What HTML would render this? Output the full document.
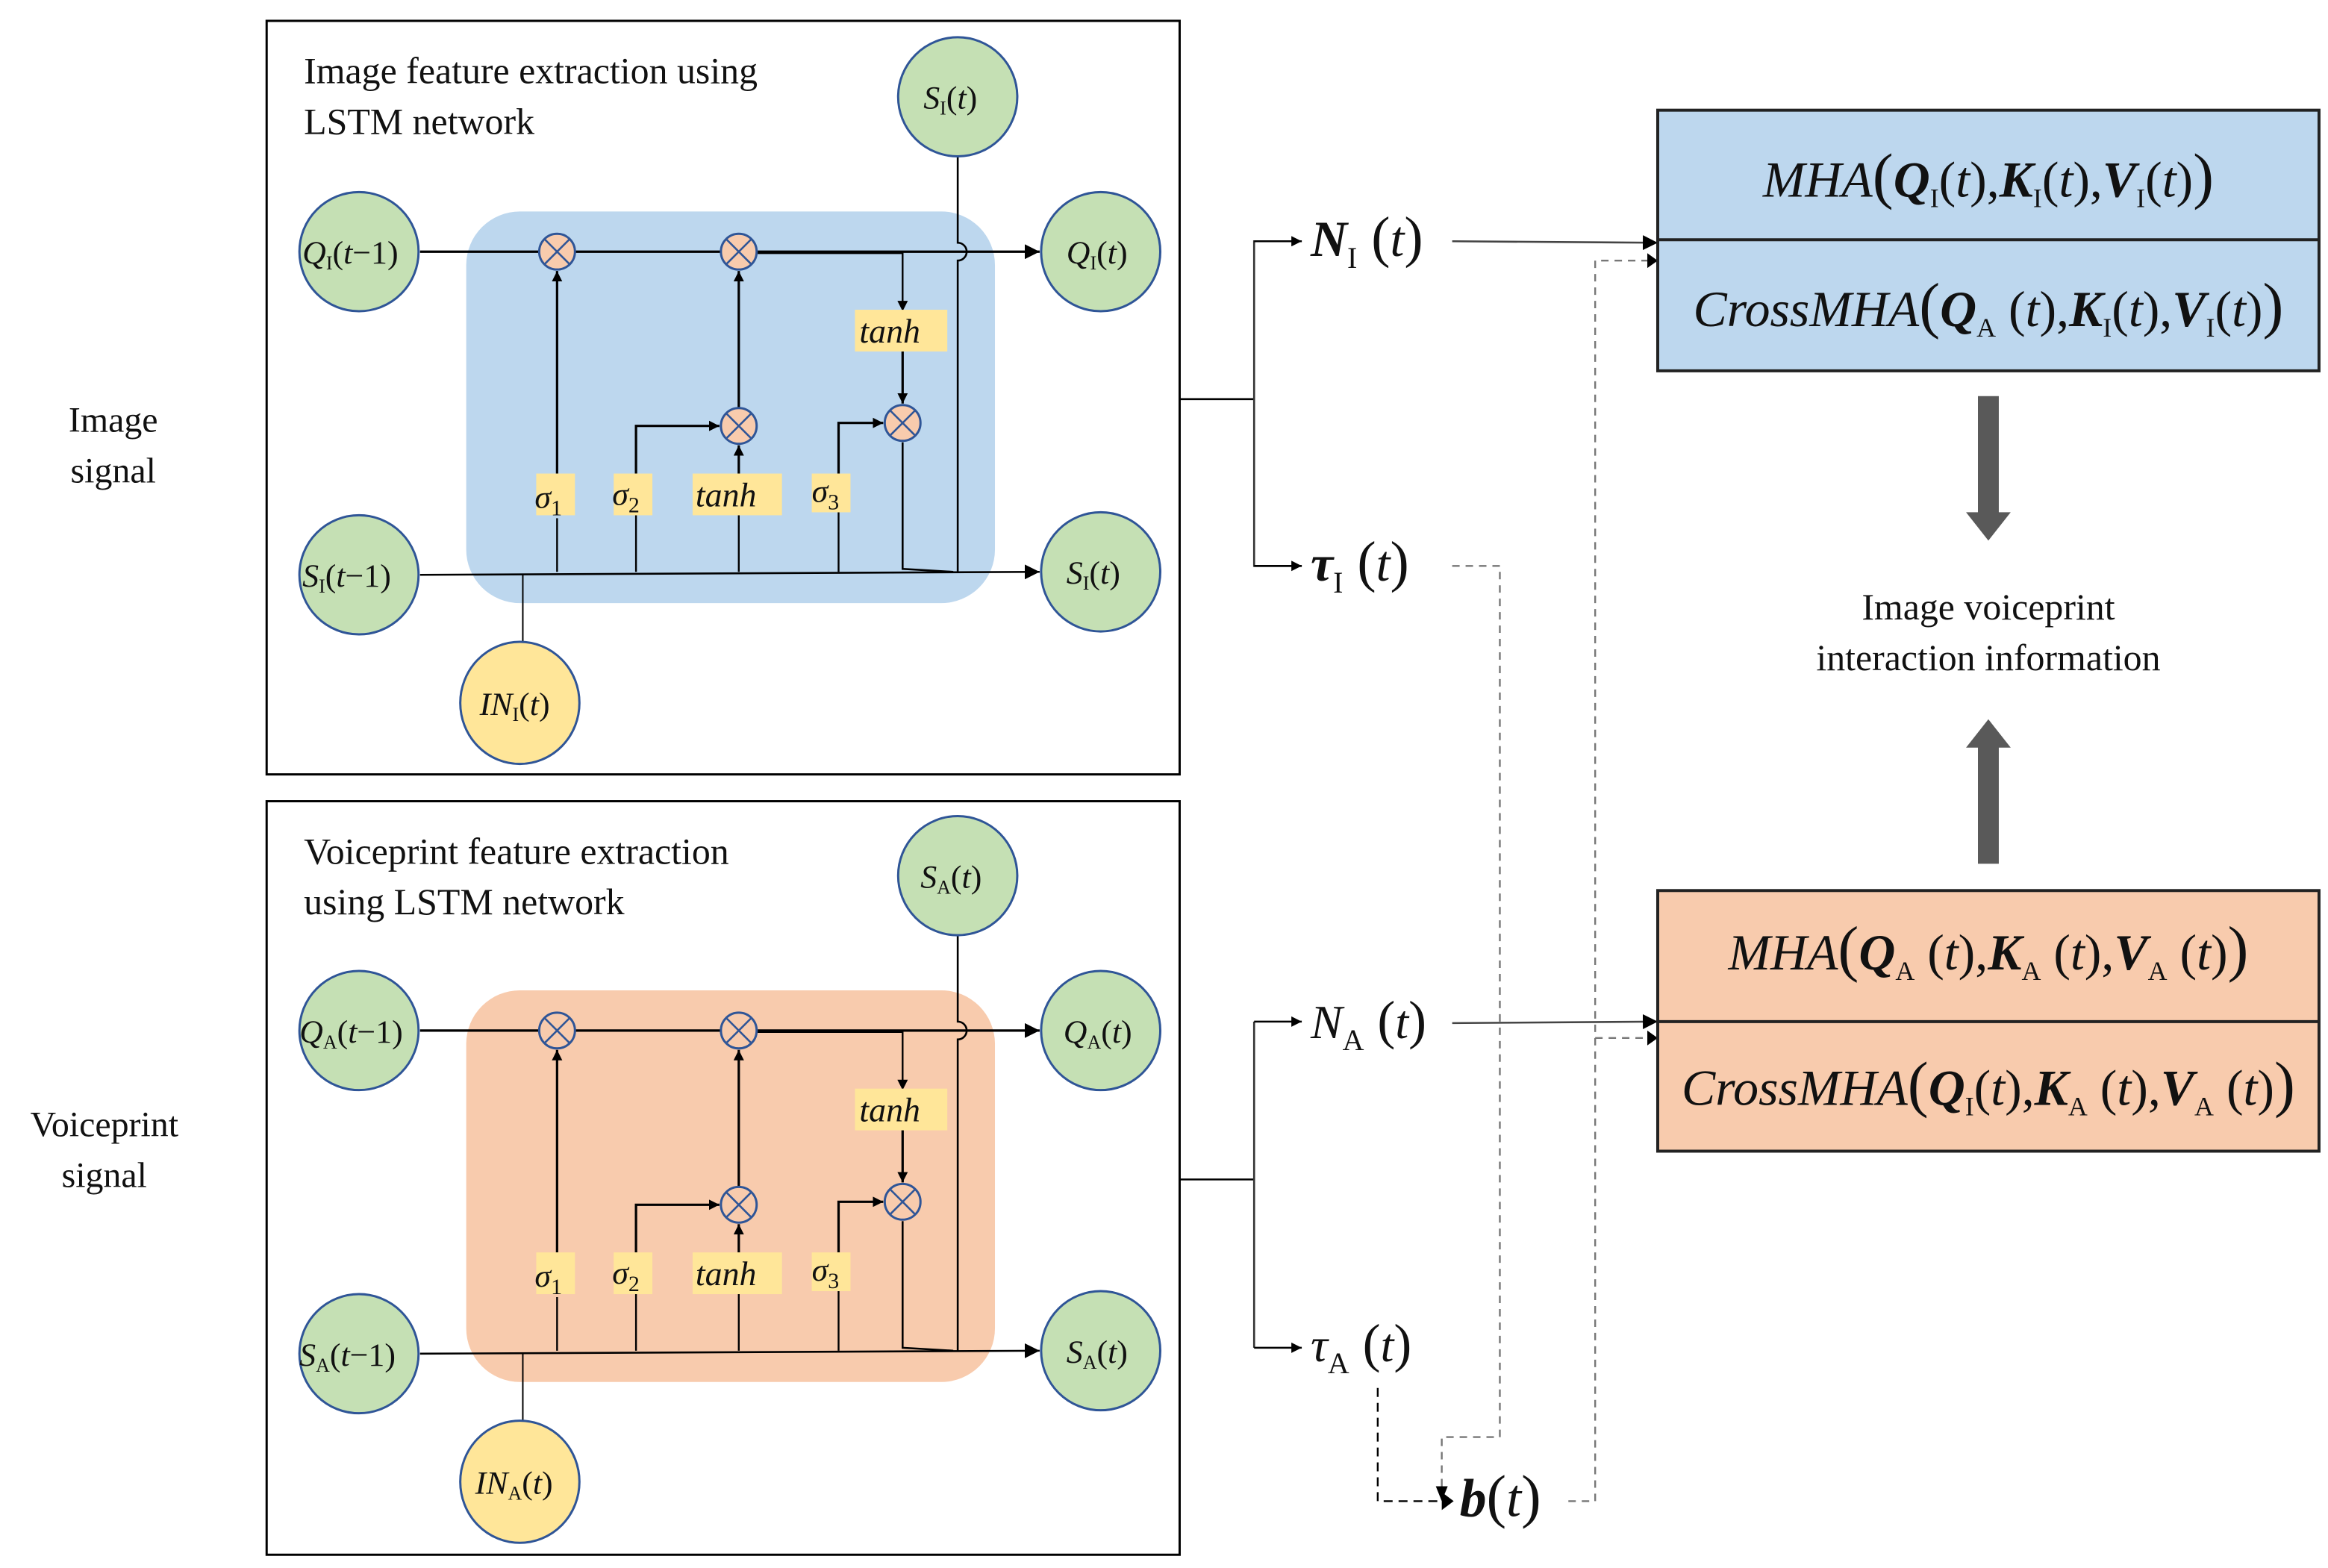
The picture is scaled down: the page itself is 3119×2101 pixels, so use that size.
<!DOCTYPE html>
<html><head><meta charset="utf-8"><style>
html,body{margin:0;padding:0;background:#fff}
svg{display:block}
text{font-family:"Liberation Serif","Times New Roman",serif;fill:#111}
.it{font-style:italic}
.b{font-weight:bold}
</style></head><body>
<svg width="3119" height="2101" viewBox="0 0 1563 1052.9" xmlns="http://www.w3.org/2000/svg" font-family="'Liberation Serif','Times New Roman',serif">
<defs>
<marker id="ar" viewBox="0 0 10 10" refX="10" refY="5" markerWidth="7" markerHeight="7" orient="auto" markerUnits="userSpaceOnUse"><path d="M0,0L10,5L0,10z" fill="#000"/></marker>
<marker id="ar2" viewBox="0 0 10 10" refX="10" refY="5" markerWidth="10" markerHeight="10" orient="auto" markerUnits="userSpaceOnUse"><path d="M0,0L10,5L0,10z" fill="#000"/></marker>
</defs>

<!-- left labels -->
<text x="76" y="290" font-size="24" text-anchor="middle">Image</text>
<text x="76" y="324" font-size="24" text-anchor="middle">signal</text>
<text x="70" y="763" font-size="24" text-anchor="middle">Voiceprint</text>
<text x="70" y="797" font-size="24" text-anchor="middle">signal</text>

<!-- ============ TOP LSTM ============ -->
<g>
<rect x="179" y="14" width="613" height="506" fill="#fff" stroke="#000" stroke-width="1.5"/>
<text x="204" y="56" font-size="25">Image feature extraction using</text>
<text x="204" y="90" font-size="25">LSTM network</text>
<rect x="313" y="142" width="355" height="263" rx="36" fill="#bdd7ee"/>
<g stroke="#000" stroke-width="1.6" fill="none">
<line x1="282" y1="169" x2="698" y2="169" marker-end="url(#ar2)"/>
<line x1="282" y1="386" x2="698" y2="384" stroke-width="1.3" marker-end="url(#ar2)"/>
<line x1="374" y1="318" x2="374" y2="182" marker-end="url(#ar)"/>
<line x1="496" y1="274" x2="496" y2="182" marker-end="url(#ar)"/>
<line x1="496" y1="318" x2="496" y2="299" marker-end="url(#ar)"/>
<polyline points="427,318 427,286 483,286" marker-end="url(#ar)"/>
<polyline points="563,318 563,284 593,284" marker-end="url(#ar)"/>
<polyline points="508,170 606,170 606,209" stroke-width="1.2" marker-end="url(#ar)"/>
<line x1="606" y1="236" x2="606" y2="271" marker-end="url(#ar)"/>
<polyline points="606,297 606,382 640,384" stroke-width="1.3"/>
<path d="M643,105 L643,163 A6,6 0 0 1 643,175 L643,384" stroke-width="1.3"/>
<polyline points="374,348 374,384" stroke-width="1.2"/>
<polyline points="427,346 427,384" stroke-width="1.2"/>
<polyline points="496,346 496,384" stroke-width="1.2"/>
<polyline points="563,344 563,384" stroke-width="1.2"/>
<line x1="351" y1="432" x2="351" y2="386" stroke-width="1"/>
</g>
<g fill="#ffe699">
<rect x="360" y="318" width="26" height="28"/>
<rect x="412" y="318" width="26" height="28"/>
<rect x="465" y="318" width="60" height="28"/>
<rect x="545" y="318" width="26" height="26"/>
<rect x="574" y="208" width="62" height="28"/>
</g>
<text x="359" y="341" font-size="22" class="it">σ<tspan font-size="15" dy="5" font-style="normal">1</tspan></text>
<text x="411" y="339" font-size="22" class="it">σ<tspan font-size="15" dy="5" font-style="normal">2</tspan></text>
<text x="467" y="340" font-size="23" class="it">tanh</text>
<text x="545" y="337" font-size="22" class="it">σ<tspan font-size="15" dy="5" font-style="normal">3</tspan></text>
<text x="577" y="230" font-size="23" class="it">tanh</text>
<g fill="#f8cbad" stroke="#2f5597" stroke-width="1.5">
<circle cx="374" cy="169" r="12"/><circle cx="496" cy="169" r="12"/><circle cx="496" cy="286" r="12"/><circle cx="606" cy="284" r="12"/>
</g>
<g stroke="#2f5597" stroke-width="1.3">
<path d="M366,161L382,177M382,161L366,177"/><path d="M488,161L504,177M504,161L488,177"/><path d="M488,278L504,294M504,278L488,294"/><path d="M598,276L614,292M614,276L598,292"/>
</g>
<g fill="#c5e0b4" stroke="#2f5597" stroke-width="1.5">
<ellipse cx="241" cy="169" rx="40" ry="40"/><ellipse cx="241" cy="386" rx="40" ry="40"/>
<ellipse cx="739" cy="169" rx="40" ry="40"/><ellipse cx="739" cy="384" rx="40" ry="40"/>
<ellipse cx="643" cy="65" rx="40" ry="40"/>
</g>
<ellipse cx="349" cy="472" rx="40" ry="41" fill="#ffe699" stroke="#2f5597" stroke-width="1.5"/>
<text x="203" y="177" font-size="22" class="it">Q<tspan font-size="13" dy="4" font-style="normal">I</tspan><tspan dy="-4" font-style="normal">(</tspan>t<tspan font-style="normal">−1)</tspan></text>
<text x="203" y="394" font-size="22" class="it">S<tspan font-size="13" dy="4" font-style="normal">I</tspan><tspan dy="-4" font-style="normal">(</tspan>t<tspan font-style="normal">−1)</tspan></text>
<text x="716" y="177" font-size="22" class="it">Q<tspan font-size="13" dy="4" font-style="normal">I</tspan><tspan dy="-4" font-style="normal">(</tspan>t<tspan font-style="normal">)</tspan></text>
<text x="716" y="392" font-size="22" class="it">S<tspan font-size="13" dy="4" font-style="normal">I</tspan><tspan dy="-4" font-style="normal">(</tspan>t<tspan font-style="normal">)</tspan></text>
<text x="620" y="73" font-size="22" class="it">S<tspan font-size="13" dy="4" font-style="normal">I</tspan><tspan dy="-4" font-style="normal">(</tspan>t<tspan font-style="normal">)</tspan></text>
<text x="322" y="480" font-size="22" class="it">IN<tspan font-size="13" dy="4" font-style="normal">I</tspan><tspan dy="-4" font-style="normal">(</tspan>t<tspan font-style="normal">)</tspan></text>
</g>

<!-- ============ BOTTOM LSTM ============ -->
<g>
<rect x="179" y="538" width="613" height="506" fill="#fff" stroke="#000" stroke-width="1.5"/>
<text x="204" y="580" font-size="25">Voiceprint feature extraction</text>
<text x="204" y="614" font-size="25">using LSTM network</text>
<g transform="translate(0,523)">
<rect x="313" y="142" width="355" height="263" rx="36" fill="#f8cbad"/>
<g stroke="#000" stroke-width="1.6" fill="none">
<line x1="282" y1="169" x2="698" y2="169" marker-end="url(#ar2)"/>
<line x1="282" y1="386" x2="698" y2="384" stroke-width="1.3" marker-end="url(#ar2)"/>
<line x1="374" y1="318" x2="374" y2="182" marker-end="url(#ar)"/>
<line x1="496" y1="274" x2="496" y2="182" marker-end="url(#ar)"/>
<line x1="496" y1="318" x2="496" y2="299" marker-end="url(#ar)"/>
<polyline points="427,318 427,286 483,286" marker-end="url(#ar)"/>
<polyline points="563,318 563,284 593,284" marker-end="url(#ar)"/>
<polyline points="508,170 606,170 606,209" stroke-width="1.2" marker-end="url(#ar)"/>
<line x1="606" y1="236" x2="606" y2="271" marker-end="url(#ar)"/>
<polyline points="606,297 606,382 640,384" stroke-width="1.3"/>
<path d="M643,105 L643,163 A6,6 0 0 1 643,175 L643,384" stroke-width="1.3"/>
<polyline points="374,348 374,384" stroke-width="1.2"/>
<polyline points="427,346 427,384" stroke-width="1.2"/>
<polyline points="496,346 496,384" stroke-width="1.2"/>
<polyline points="563,344 563,384" stroke-width="1.2"/>
<line x1="351" y1="432" x2="351" y2="386" stroke-width="1"/>
</g>
<g fill="#ffe699">
<rect x="360" y="318" width="26" height="28"/>
<rect x="412" y="318" width="26" height="28"/>
<rect x="465" y="318" width="60" height="28"/>
<rect x="545" y="318" width="26" height="26"/>
<rect x="574" y="208" width="62" height="28"/>
</g>
<text x="359" y="341" font-size="22" class="it">σ<tspan font-size="15" dy="5" font-style="normal">1</tspan></text>
<text x="411" y="339" font-size="22" class="it">σ<tspan font-size="15" dy="5" font-style="normal">2</tspan></text>
<text x="467" y="340" font-size="23" class="it">tanh</text>
<text x="545" y="337" font-size="22" class="it">σ<tspan font-size="15" dy="5" font-style="normal">3</tspan></text>
<text x="577" y="230" font-size="23" class="it">tanh</text>
<g fill="#f8cbad" stroke="#2f5597" stroke-width="1.5">
<circle cx="374" cy="169" r="12"/><circle cx="496" cy="169" r="12"/><circle cx="496" cy="286" r="12"/><circle cx="606" cy="284" r="12"/>
</g>
<g stroke="#2f5597" stroke-width="1.3">
<path d="M366,161L382,177M382,161L366,177"/><path d="M488,161L504,177M504,161L488,177"/><path d="M488,278L504,294M504,278L488,294"/><path d="M598,276L614,292M614,276L598,292"/>
</g>
<g fill="#c5e0b4" stroke="#2f5597" stroke-width="1.5">
<ellipse cx="241" cy="169" rx="40" ry="40"/><ellipse cx="241" cy="386" rx="40" ry="40"/>
<ellipse cx="739" cy="169" rx="40" ry="40"/><ellipse cx="739" cy="384" rx="40" ry="40"/>
<ellipse cx="643" cy="65" rx="40" ry="40"/>
</g>
<ellipse cx="349" cy="472" rx="40" ry="41" fill="#ffe699" stroke="#2f5597" stroke-width="1.5"/>
<text x="201" y="177" font-size="22" class="it">Q<tspan font-size="13" dy="4" font-style="normal">A</tspan><tspan dy="-4" font-style="normal">(</tspan>t<tspan font-style="normal">−1)</tspan></text>
<text x="201" y="394" font-size="22" class="it">S<tspan font-size="13" dy="4" font-style="normal">A</tspan><tspan dy="-4" font-style="normal">(</tspan>t<tspan font-style="normal">−1)</tspan></text>
<text x="714" y="177" font-size="22" class="it">Q<tspan font-size="13" dy="4" font-style="normal">A</tspan><tspan dy="-4" font-style="normal">(</tspan>t<tspan font-style="normal">)</tspan></text>
<text x="716" y="392" font-size="22" class="it">S<tspan font-size="13" dy="4" font-style="normal">A</tspan><tspan dy="-4" font-style="normal">(</tspan>t<tspan font-style="normal">)</tspan></text>
<text x="618" y="73" font-size="22" class="it">S<tspan font-size="13" dy="4" font-style="normal">A</tspan><tspan dy="-4" font-style="normal">(</tspan>t<tspan font-style="normal">)</tspan></text>
<text x="319" y="480" font-size="22" class="it">IN<tspan font-size="13" dy="4" font-style="normal">A</tspan><tspan dy="-4" font-style="normal">(</tspan>t<tspan font-style="normal">)</tspan></text>
</g>
</g>

<!-- ============ middle connectors ============ -->
<g stroke="#000" stroke-width="1.3" fill="none">
<polyline points="792,268 842,268"/>
<polyline points="874,162 842,162 842,380 874,380" stroke="#333"/>
<line x1="842" y1="162" x2="874" y2="162" marker-end="url(#ar)"/>
<line x1="842" y1="380" x2="874" y2="380" marker-end="url(#ar)"/>
<polyline points="792,792 842,792"/>
<polyline points="842,686 842,905" stroke="#333"/>
<line x1="842" y1="686" x2="874" y2="686" marker-end="url(#ar)"/>
<line x1="842" y1="905" x2="874" y2="905" marker-end="url(#ar)"/>
<line x1="975" y1="162" x2="1113" y2="163" stroke="#444" marker-end="url(#ar2)"/>
<line x1="975" y1="687" x2="1113" y2="686" stroke="#444" marker-end="url(#ar2)"/>
</g>
<g stroke="#777" stroke-width="1.2" fill="none" stroke-dasharray="5,4">
<polyline points="975,380 1007,380 1007,965 968,965 968,1004"/>
<polyline points="1053,1008 1071,1008 1071,175 1106,175"/>
<polyline points="1071,697 1106,697"/>
</g>
<polyline points="925,932 925,1008 968,1008" stroke="#000" stroke-width="1.2" fill="none" stroke-dasharray="6,4"/>
<path d="M968,1002L976,1008L968,1014z" fill="#000"/>
<path d="M964,998L968,1008L972,998z" fill="#000"/>
<path d="M1106,170L1113,175L1106,180z" fill="#000"/>
<path d="M1106,692L1113,697L1106,702z" fill="#000"/>

<!-- N, tau, b labels -->
<text x="880" y="172" font-size="34" class="it b">N<tspan font-size="20" dy="8" font-style="normal" font-weight="normal">I</tspan><tspan dy="-8" font-weight="normal" font-style="normal" font-size="38"> (</tspan><tspan font-weight="normal">t</tspan><tspan font-weight="normal" font-style="normal" font-size="38">)</tspan></text>
<text x="880" y="390" font-size="34" class="it b">τ<tspan font-size="20" dy="8" font-style="normal" font-weight="normal">I</tspan><tspan dy="-8" font-weight="normal" font-style="normal" font-size="38"> (</tspan><tspan font-weight="normal">t</tspan><tspan font-weight="normal" font-style="normal" font-size="38">)</tspan></text>
<text x="880" y="697" font-size="32" class="it">N<tspan font-size="20" dy="8" font-style="normal">A</tspan><tspan dy="-8" font-style="normal" font-size="36"> (</tspan>t<tspan font-style="normal" font-size="36">)</tspan></text>
<text x="880" y="914" font-size="32" class="it">τ<tspan font-size="20" dy="8" font-style="normal">A</tspan><tspan dy="-8" font-style="normal" font-size="36"> (</tspan>t<tspan font-style="normal" font-size="36">)</tspan></text>
<text x="980" y="1018" font-size="36" class="it b">b<tspan font-weight="normal" font-style="normal" font-size="40">(</tspan><tspan font-weight="normal">t</tspan><tspan font-weight="normal" font-style="normal" font-size="40">)</tspan></text>

<!-- right boxes -->
<rect x="1113" y="74" width="444" height="175" fill="#bdd7ee" stroke="#222" stroke-width="2"/>
<line x1="1113" y1="161" x2="1557" y2="161" stroke="#222" stroke-width="2"/>
<rect x="1113" y="598" width="444" height="175" fill="#f8cbad" stroke="#222" stroke-width="2"/>
<line x1="1113" y1="686" x2="1557" y2="686" stroke="#222" stroke-width="2"/>

<text x="1335" y="132" font-size="34" text-anchor="middle" class="it">MHA<tspan font-style="normal" font-size="42">(</tspan><tspan class="b">Q</tspan><tspan font-size="18" dy="7" font-style="normal">I</tspan><tspan dy="-7" font-style="normal">(</tspan>t<tspan font-style="normal">),</tspan><tspan class="b">K</tspan><tspan font-size="18" dy="7" font-style="normal">I</tspan><tspan dy="-7" font-style="normal">(</tspan>t<tspan font-style="normal">),</tspan><tspan class="b">V</tspan><tspan font-size="18" dy="7" font-style="normal">I</tspan><tspan dy="-7" font-style="normal">(</tspan>t<tspan font-style="normal">)</tspan><tspan font-style="normal" font-size="42">)</tspan></text>
<text x="1335" y="219" font-size="34" text-anchor="middle" class="it">CrossMHA<tspan font-style="normal" font-size="42">(</tspan><tspan class="b">Q</tspan><tspan font-size="18" dy="7" font-style="normal">A</tspan><tspan dy="-7" font-style="normal"> (</tspan>t<tspan font-style="normal">),</tspan><tspan class="b">K</tspan><tspan font-size="18" dy="7" font-style="normal">I</tspan><tspan dy="-7" font-style="normal">(</tspan>t<tspan font-style="normal">),</tspan><tspan class="b">V</tspan><tspan font-size="18" dy="7" font-style="normal">I</tspan><tspan dy="-7" font-style="normal">(</tspan>t<tspan font-style="normal">)</tspan><tspan font-style="normal" font-size="42">)</tspan></text>
<text x="1335" y="651" font-size="34" text-anchor="middle" class="it">MHA<tspan font-style="normal" font-size="42">(</tspan><tspan class="b">Q</tspan><tspan font-size="18" dy="7" font-style="normal">A</tspan><tspan dy="-7" font-style="normal"> (</tspan>t<tspan font-style="normal">),</tspan><tspan class="b">K</tspan><tspan font-size="18" dy="7" font-style="normal">A</tspan><tspan dy="-7" font-style="normal"> (</tspan>t<tspan font-style="normal">),</tspan><tspan class="b">V</tspan><tspan font-size="18" dy="7" font-style="normal">A</tspan><tspan dy="-7" font-style="normal"> (</tspan>t<tspan font-style="normal">)</tspan><tspan font-style="normal" font-size="42">)</tspan></text>
<text x="1335" y="742" font-size="34" text-anchor="middle" class="it">CrossMHA<tspan font-style="normal" font-size="42">(</tspan><tspan class="b">Q</tspan><tspan font-size="18" dy="7" font-style="normal">I</tspan><tspan dy="-7" font-style="normal">(</tspan>t<tspan font-style="normal">),</tspan><tspan class="b">K</tspan><tspan font-size="18" dy="7" font-style="normal">A</tspan><tspan dy="-7" font-style="normal"> (</tspan>t<tspan font-style="normal">),</tspan><tspan class="b">V</tspan><tspan font-size="18" dy="7" font-style="normal">A</tspan><tspan dy="-7" font-style="normal"> (</tspan>t<tspan font-style="normal">)</tspan><tspan font-style="normal" font-size="42">)</tspan></text>

<!-- big arrows -->
<path d="M1328,266 L1342,266 L1342,344 L1350,344 L1335,363 L1320,344 L1328,344 Z" fill="#595959"/>
<path d="M1328,580 L1342,580 L1342,502 L1350,502 L1335,483 L1320,502 L1328,502 Z" fill="#595959"/>
<text x="1335" y="416" font-size="25" text-anchor="middle">Image voiceprint</text>
<text x="1335" y="450" font-size="25" text-anchor="middle">interaction information</text>
</svg>
</body></html>
